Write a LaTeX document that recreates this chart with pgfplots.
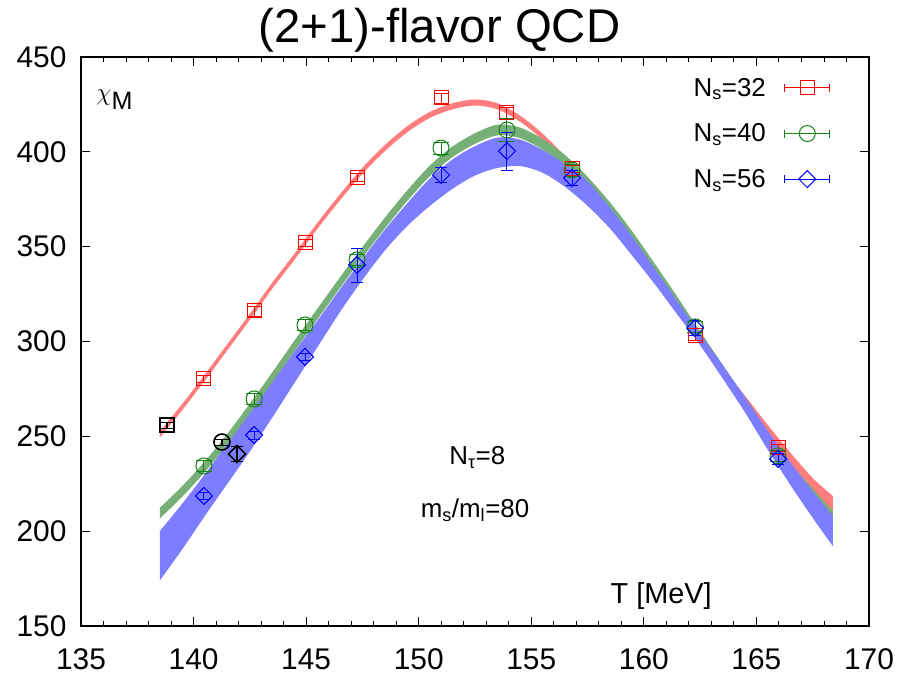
\documentclass[border=0pt]{standalone}
\usepackage{pgfplots}
\pgfplotsset{compat=1.18}
\usepgfplotslibrary{fillbetween}
\usepackage{fontspec}
\setmainfont{Liberation Sans}
\definecolor{cred}{RGB}{255,0,0}
\definecolor{cgreen}{RGB}{20,130,20}
\definecolor{cblue}{RGB}{0,0,255}
\definecolor{bred}{RGB}{255,125,125}
\definecolor{bgreen}{RGB}{118,176,118}
\definecolor{bblue}{RGB}{125,125,255}
\begin{document}
\begin{tikzpicture}
\begin{axis}[
  scale only axis, width=788bp, height=569bp,
  xmin=135, xmax=170, ymin=150, ymax=450,
  xtick={135,140,...,170}, ytick={150,200,...,450},
  minor x tick num=4,
  tick align=inside, xtick pos=both, ytick pos=both,
  major tick length=9bp, minor tick length=5bp,
  axis line style={line width=1.1bp},
  every tick/.style={line width=0.9bp, black},
  /pgf/number format/assume math mode=true,
  tick label style={font=\fontsize{30}{32}\selectfont},
  xticklabel style={yshift=-19bp},
  yticklabel style={xshift=-11bp},
  title={(2+1)-flavor QCD},
  title style={font=\fontsize{47.5}{49}\selectfont, at={(0.455,1)}, anchor=base, yshift=9bp},
  legend style={at={(1,1)}, anchor=north east, draw=none, fill=none,
    font=\fontsize{26}{28}\selectfont, row sep=22bp, xshift=-35bp, yshift=-17bp,
    /tikz/every odd column/.append style={column sep=16bp}},
  legend cell align=right, legend plot pos=right,
  legend image code/.code={
    \draw[#1, mark=none, line width=1bp, |-|] (0bp,0bp) -- (46bp,0bp);
    \draw[#1, only marks] plot coordinates {(23bp,0bp)};
  },
]
% legend
\addlegendimage{cred, mark=square, mark size=7bp, line width=1bp}
\addlegendentry{N\textsubscript{s}=32}
\addlegendimage{cgreen, mark=o, mark size=8bp, line width=1bp}
\addlegendentry{N\textsubscript{s}=40}
\addlegendimage{cblue, mark=square, mark options={rotate=45}, mark size=6bp, line width=1bp}
\addlegendentry{N\textsubscript{s}=56}

% red band
\addplot[draw=none, smooth, name path=ru, forget plot] coordinates {
(138.5,252.6)(139.5,267.1)(140.5,282.6)(141.5,298.6)(142.5,314.6)(143.5,331.1)(144.5,346.6)(145.5,362.6)(146.5,377.6)(147.5,391.6)(148.5,403.6)(149.5,413.6)(150.5,421.1)(151.5,425.6)(152.5,427.6)(153.5,425.6)(154.5,419.1)(155.5,409.6)(156.5,397.6)(157.5,383.6)(158.5,368.6)(159.5,352.6)(160.5,336.6)(161.5,319.8)(162.5,303)(163.5,286.7)(164.5,271.3)(165.5,256)(166.5,241.5)(167.5,228)(168.4,218.5)};
\addplot[draw=none, smooth, name path=rl, forget plot] coordinates {
(138.5,249.4)(139.5,263.9)(140.5,279.4)(141.5,295.4)(142.5,311.4)(143.5,327.9)(144.5,343.4)(145.5,359.4)(146.5,374.4)(147.5,388.4)(148.5,400.4)(149.5,410.4)(150.5,417.9)(151.5,422.4)(152.5,424.4)(153.5,422.4)(154.5,415.9)(155.5,406.4)(156.5,394.4)(157.5,380.4)(158.5,365.4)(159.5,349.4)(160.5,333.4)(161.5,316.2)(162.5,299)(163.5,281.3)(164.5,264.7)(165.5,248)(166.5,232.5)(167.5,218)(168.4,207.5)};
\addplot[bred, forget plot] fill between[of=ru and rl];

% green band
\addplot[draw=none, smooth, name path=gu, forget plot] coordinates {
(138.5,212.3)(139.5,223.8)(140.5,236.8)(141.5,251.3)(142.5,267.3)(143.5,283.8)(144.5,300.8)(145.5,317.3)(146.5,333.8)(147.5,349.8)(148.5,365.3)(149.5,379.8)(150.5,392.8)(151.5,402.8)(152.5,409.8)(153.5,414.3)(154.5,412.8)(155.5,406.8)(156.5,398.3)(157.5,386.8)(158.5,373.3)(159.5,357.8)(160.5,340.8)(161.5,323.3)(162.5,305.3)(163.5,287.8)(164.5,269.8)(165.5,252.3)(166.5,235.8)(167.5,222.5)(168.4,210.5)};
\addplot[draw=none, smooth, name path=gl, forget plot] coordinates {
(138.5,206.7)(139.5,218.2)(140.5,231.2)(141.5,245.7)(142.5,261.7)(143.5,278.2)(144.5,295.2)(145.5,311.7)(146.5,328.2)(147.5,344.2)(148.5,359.7)(149.5,374.2)(150.5,387.2)(151.5,397.2)(152.5,404.2)(153.5,408.7)(154.5,407.2)(155.5,401.2)(156.5,392.7)(157.5,381.2)(158.5,367.7)(159.5,352.2)(160.5,335.2)(161.5,317.7)(162.5,299.7)(163.5,282.2)(164.5,264.2)(165.5,246.7)(166.5,230.2)(167.5,217.5)(168.4,206.5)};
\addplot[bgreen, forget plot] fill between[of=gu and gl];

% blue band
\addplot[draw=none, smooth, name path=bu, forget plot] coordinates {
(138.5,200)(139.5,214.5)(140.5,230)(141.5,246)(142.5,262)(143.5,278.5)(144.5,295)(145.5,311)(146.5,327.5)(147.5,343.5)(148.5,359)(149.5,373)(150.5,386)(151.5,396)(152.5,403)(153.5,407.5)(154.5,406.5)(155.5,401)(156.5,393.5)(157.5,384.5)(158.5,370.5)(159.5,355)(160.5,338)(161.5,321)(162.5,304)(163.5,287.5)(164.5,270.5)(165.5,253)(166.5,236.5)(167.5,221)(168.4,208)};
\addplot[draw=none, smooth, name path=bl, forget plot] coordinates {
(138.5,174)(139.5,190.5)(140.5,208)(141.5,225)(142.5,242)(143.5,260)(144.5,278.5)(145.5,297)(146.5,315.5)(147.5,332.5)(148.5,348)(149.5,361)(150.5,371.5)(151.5,380.5)(152.5,387.5)(153.5,391.5)(154.5,392.5)(155.5,389)(156.5,381.5)(157.5,371.5)(158.5,359.5)(159.5,345)(160.5,330)(161.5,314)(162.5,298)(163.5,280.5)(164.5,262.5)(165.5,243)(166.5,224.5)(167.5,207)(168.4,192)};
\addplot[bblue, forget plot] fill between[of=bu and bl];

% data points
\addplot[cred, only marks, mark=square, mark size=7bp, line width=1bp, forget plot,
  error bars/.cd, y dir=both, y explicit, error bar style={line width=1bp}] coordinates {
(140.46,280.3) +- (0,2)
(142.69,316.1) +- (0,2.5)
(144.95,352.0) +- (0,2)
(147.26,386.7) +- (0,2)
(150.99,428.4) +- (0,2.5)
(153.92,420.5) +- (0,3)
(156.81,391.0) +- (0,2)
(162.28,302.9) +- (0,2)
(165.96,243.9) +- (0,2)
};
\addplot[cgreen, only marks, mark=o, mark size=8bp, line width=1bp, forget plot,
  error bars/.cd, y dir=both, y explicit, error bar style={line width=1bp}] coordinates {
(140.46,234.4) +- (0,3)
(142.69,269.7) +- (0,3)
(144.95,308.7) +- (0,3)
(147.26,343.0) +- (0,3)
(150.99,402.0) +- (0,3)
(153.92,411.5) +- (0,6)
(156.81,390.4) +- (0,3)
(162.28,307.7) +- (0,3)
(165.96,239.7) +- (0,3)
};
\addplot[cblue, only marks, mark=square, mark options={rotate=45}, mark size=6bp, line width=1bp, forget plot,
  error bars/.cd, y dir=both, y explicit, error bar style={line width=1bp}] coordinates {
(140.46,218.6) +- (0,2)
(142.69,250.7) +- (0,2)
(144.95,291.9) +- (0,2)
(147.26,340.4) +- (0,9)
(150.99,387.8) +- (0,4)
(153.92,400.4) +- (0,10)
(156.81,386.2) +- (0,4)
(162.28,307.1) +- (0,4)
(165.96,238.1) +- (0,3)
};
% black points
\addplot[black, only marks, mark=square, mark size=7bp, line width=1.6bp, forget plot,
  error bars/.cd, y dir=both, y explicit, error bar style={line width=1.6bp}] coordinates {
(138.82,256.0) +- (0,1.5)
};
\addplot[black, only marks, mark=o, mark size=8bp, line width=1.6bp, forget plot,
  error bars/.cd, y dir=both, y explicit, error bar style={line width=1.6bp}] coordinates {
(141.26,247.0) +- (0,1.5)
};
\addplot[black, only marks, mark=square, mark options={rotate=45}, mark size=6bp, line width=1.6bp, forget plot,
  error bars/.cd, y dir=both, y explicit, error bar style={line width=1.6bp}] coordinates {
(141.93,240.7) +- (0,4)
};

\node[font=\fontsize{26}{28}\selectfont] at (axis cs:152.6,239) {N\textsubscript{τ}=8};
\node[font=\fontsize{26}{28}\selectfont] at (axis cs:152.5,211) {m\textsubscript{s}/m\textsubscript{l}=80};
\node[font=\fontsize{29}{31}\selectfont] at (axis cs:160.77,166) {T [MeV]};
\node[font=\fontsize{36}{38}\selectfont] at (axis cs:136.5,427.5) {$\chi$\textsubscript{M}};
\end{axis}
\pgfresetboundingbox
\path[use as bounding box] (current axis.south west) ++(-81bp,-52bp) rectangle ++(901bp,678bp);
\end{tikzpicture}
\end{document}
